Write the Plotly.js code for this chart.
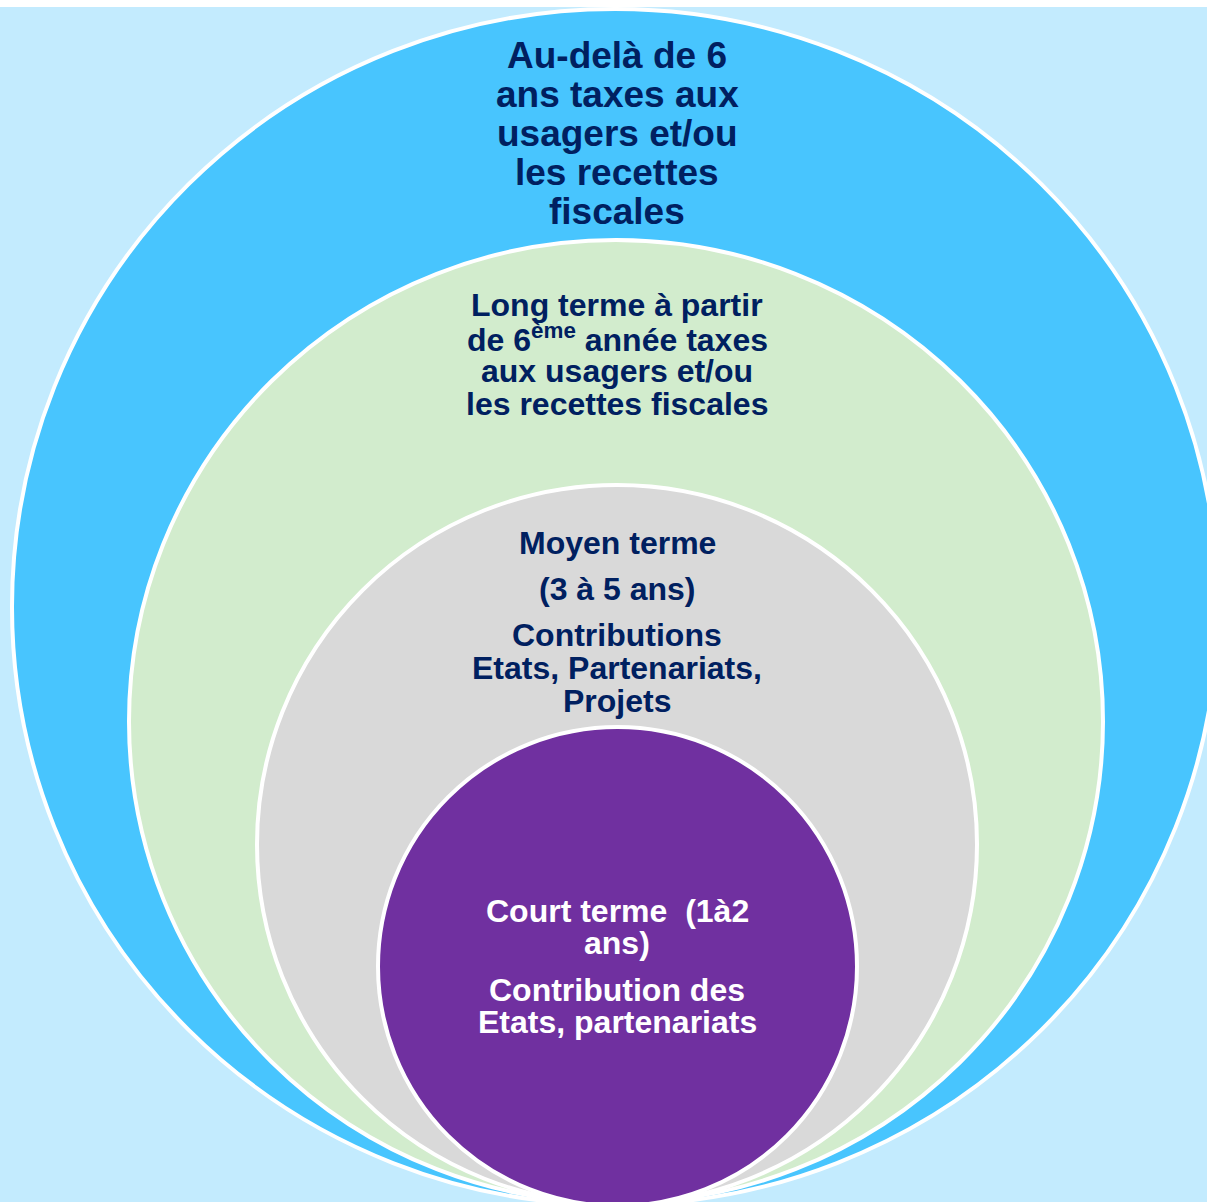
<!DOCTYPE html>
<html>
<head>
<meta charset="utf-8">
<script src="https://cdn.plot.ly/plotly-3.0.1.min.js"></script>
<style>html,body{margin:0;padding:0;background:#fff;}#chart{width:1207px;height:1202px;}</style>
</head>
<body>
<div id="chart"></div>
<script>
// ---- Data: the four nested horizons (outer to inner) ----
const rings = ["Au-delà de 6 ans", "Long terme", "Moyen terme", "Court terme"];
const outerText = [["Au-delà de 6", "ans taxes aux", "usagers et/ou", "les recettes", "fiscales"]];
const longText = [["Long terme à partir", "de 6<sup>ème</sup> année taxes", "aux usagers et/ou", "les recettes fiscales"]];
const moyenText = [["Moyen terme"], ["(3 à 5 ans)"], ["Contributions", "Etats, Partenariats,", "Projets"]];
const courtText = [["Court terme\u00a0 (1à2", "ans)"], ["Contribution des", "Etats, partenariats"]];

// ---- Layout / style config (not data) ----
const W = 1207, H = 1202;
const ringGeom = [
  {x0: 12,  x1: 1218, y0: 9,   y1: 1205, fill: "#48C5FE"},
  {x0: 129, x1: 1103, y0: 240, y1: 1203, fill: "#D2ECCD"},
  {x0: 257, x1: 977,  y0: 485, y1: 1204, fill: "#D9D9D9"},
  {x0: 378, x1: 857,  y0: 727, y1: 1206, fill: "#7030A0"}
];
const textBlocks = [
  {paras: outerText, y: 55,  size: 37, lh: 39, gap: 0,  color: "#002060"},
  {paras: longText,  y: 305, size: 32, lh: 33, gap: 0,  color: "#002060"},
  {paras: moyenText, y: 543, size: 32, lh: 33, gap: 13, color: "#002060"},
  {paras: courtText, y: 911, size: 32, lh: 32, gap: 15, color: "#FFFFFF"}
];
const cx = 617;

const shapes = [
  {type: "rect", xref: "x", yref: "y", x0: 0, x1: W, y0: 7, y1: H,
   fillcolor: "#C3EBFE", line: {width: 0}, layer: "below"}
];
ringGeom.forEach(g => shapes.push({
  type: "circle", xref: "x", yref: "y", x0: g.x0, x1: g.x1, y0: g.y0, y1: g.y1,
  fillcolor: g.fill, line: {color: "#FFFFFF", width: 4}, layer: "below"
}));

const annotations = [];
textBlocks.forEach(b => {
  let y = b.y;
  b.paras.forEach((p, pi) => {
    if (pi > 0) y += b.gap;
    p.forEach(line => {
      annotations.push({
        x: cx, y: y, xref: "x", yref: "y", text: line, showarrow: false,
        xanchor: "center", yanchor: "middle",
        font: {family: "Liberation Sans, Arial, sans-serif", size: b.size, color: b.color, weight: "bold"}
      });
      y += b.lh;
    });
  });
});

const layout = {
  width: W, height: H,
  margin: {l: 0, r: 0, t: 0, b: 0, pad: 0},
  paper_bgcolor: "#FFFFFF", plot_bgcolor: "#FFFFFF",
  xaxis: {range: [0, W], visible: false, fixedrange: true},
  yaxis: {range: [H, 0], visible: false, fixedrange: true},
  shapes: shapes, annotations: annotations, showlegend: false
};
Plotly.newPlot("chart", [], layout, {staticPlot: true, displayModeBar: false});
</script>
</body>
</html>
